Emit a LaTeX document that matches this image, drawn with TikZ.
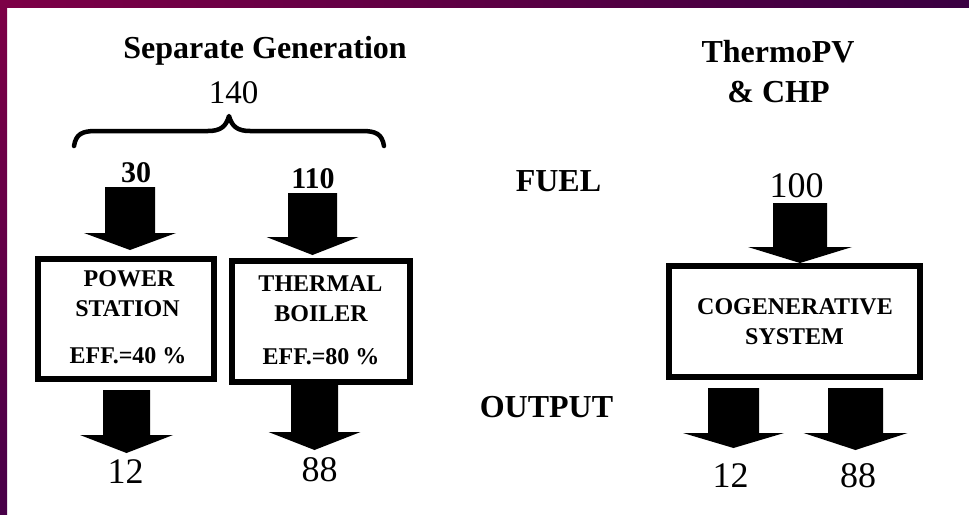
\documentclass[tikz,border=0pt]{standalone}
\usepackage{fontspec}
\setmainfont{Liberation Serif}
\usetikzlibrary{calc}
\definecolor{frameA}{RGB}{125,0,70}
\definecolor{frameB}{RGB}{58,0,66}
\definecolor{frameC}{RGB}{72,0,72}
% block arrow: tail coordinate, tip coordinate, shaft half width, head half width, head length
\newcommand\blockarr[5]{\fill[black] let \p1=(#1), \p2=(#2) in
  (\x1-#3pt,\y1) -- (\x1+#3pt,\y1) -- (\x1+#3pt,\y2+#5pt) -- (\x1+#4pt,\y2+#5pt)
  -- (\x1,\y2) -- (\x1-#4pt,\y2+#5pt) -- (\x1-#3pt,\y2+#5pt) -- cycle;}
\tikzset{
  hdr/.style={font=\fontsize{32}{36}\bfseries\selectfont, inner sep=0pt, anchor=base},
  numtxt/.style={font=\fontsize{36}{40}\selectfont, inner sep=0pt, anchor=base},
  bnum/.style={font=\fontsize{30}{34}\bfseries\selectfont, inner sep=0pt, anchor=base},
  boxtxt/.style={font=\fontsize{24}{28}\bfseries\selectfont, inner sep=0pt, anchor=base},
  boxst/.style={draw=black, line width=6pt, inner sep=0pt},
}
\begin{document}
\begin{tikzpicture}[x=1pt,y=-1pt]
\useasboundingbox (0,0) rectangle (969,514);
\fill[white] (0,0) rectangle (969,514);
% frame
\shade[left color=frameA, right color=frameB] (0,0) rectangle (969,7);
\shade[top color=frameA, bottom color=frameC] (0,0) rectangle (7,514);

% ---- left part: separate generation
\node[hdr] (sepgen) at (265,58) {Separate Generation};
\node[numtxt, font=\fontsize{33}{36}\selectfont] (n140) at (233.5,103) {140};
\draw[line width=4.5pt, line cap=round, line join=round]
  (74,146) .. controls (76,134) and (82,131) .. (96,131) -- (208,131)
  .. controls (220,131) and (226,127) .. (229,116)
  .. controls (232,127) and (238,131) .. (250,131) -- (362,131)
  .. controls (376,131) and (382,134) .. (384,146);
\node[bnum] (n30) at (136,182) {30};
\node[bnum] (n110) at (313,188) {110};

\node[boxst, minimum width=176pt, minimum height=120pt] (ps) at (126,319) {};
\node[boxtxt] (tpower) at (129,286) {POWER};
\node[boxtxt] (tstation) at (127.5,316) {STATION};
\node[boxtxt] (teff40) at (128,363) {EFF.=40 \%};

\node[boxst, minimum width=178pt, minimum height=121pt] (tb) at (321,321.5) {};
\node[boxtxt] (tthermal) at (320.5,291) {THERMAL};
\node[boxtxt] (tboiler) at (321,321.5) {BOILER};
\node[boxtxt] (teff80) at (321,364) {EFF.=80 \%};

\node[numtxt] (o12a) at (125.5,483) {12};
\node[numtxt] (o88a) at (319.5,481) {88};

% arrow ends
\coordinate (a1t) at (130,187);   \coordinate (a1h) at (130,250);
\coordinate (a2t) at (312.5,193); \coordinate (a2h) at (312.5,255);
\coordinate (a3t) at (126.5,390); \coordinate (a3h) at (126.5,453);
\coordinate (a4t) at (314.5,385); \coordinate (a4h) at (314.5,450);
\blockarr{a1t}{a1h}{25}{46}{17}
\blockarr{a2t}{a2h}{24.5}{46}{18}
\blockarr{a3t}{a3h}{23.5}{46.5}{18}
\blockarr{a4t}{a4h}{23.5}{46}{18}

% ---- labels in the middle
\node[hdr] (fuel) at (558.5,191) {FUEL};
\node[hdr] (output) at (546.5,417) {OUTPUT};

% ---- right part: ThermoPV & CHP
\node[hdr] (thermopv) at (778,62) {ThermoPV};
\node[hdr] (chp) at (778.5,102) {\& CHP};
\node[numtxt] (n100) at (796.5,197) {100};

\node[boxst, minimum width=251pt, minimum height=111pt] (cs) at (794.5,321.5) {};
\node[boxtxt] (tcogen) at (795,314) {COGENERATIVE};
\node[boxtxt] (tsystem) at (794.5,344) {SYSTEM};

\node[numtxt] (o12b) at (730.5,487) {12};
\node[numtxt] (o88b) at (858,487) {88};

\coordinate (a5t) at (800,203);   \coordinate (a5h) at (800,263);
\coordinate (a6t) at (733.5,388); \coordinate (a6h) at (733.5,448);
\coordinate (a7t) at (855.5,388); \coordinate (a7h) at (855.5,450);
\blockarr{a5t}{a5h}{27}{52}{16}
\blockarr{a6t}{a6h}{25.5}{50.5}{15}
\blockarr{a7t}{a7h}{27.5}{52}{17}
\end{tikzpicture}
\end{document}
